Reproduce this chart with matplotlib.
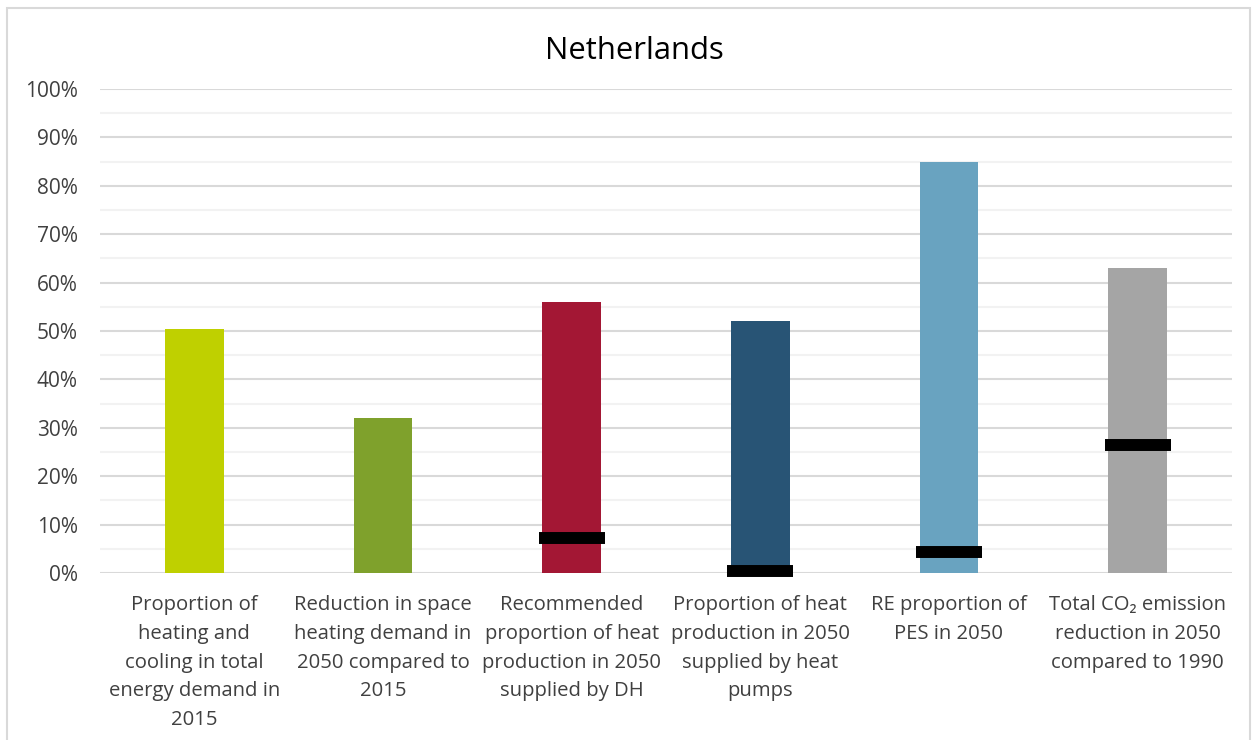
import matplotlib.pyplot as plt
import numpy as np
from matplotlib.patches import Rectangle
from matplotlib.ticker import MultipleLocator, PercentFormatter

plt.rcParams['font.family'] = ['Open Sans', 'DejaVu Sans']

categories = [
    "Proportion of\nheating and\ncooling in total\nenergy demand in\n2015",
    "Reduction in space\nheating demand in\n2050 compared to\n2015",
    "Recommended\nproportion of heat\nproduction in 2050\nsupplied by DH",
    "Proportion of heat\nproduction in 2050\nsupplied by heat\npumps",
    "RE proportion of\nPES in 2050",
    "Total CO\u2082 emission\nreduction in 2050\ncompared to 1990",
]
values = [50.4, 32.0, 56.0, 52.0, 85.0, 63.0]
# black markers (current level), None where absent
markers = [None, None, 7.2, 0.4, 4.3, 26.4]
colors = ['#bfd000', '#7fa12c', '#a31734', '#285475', '#69a3c0', '#a5a5a5']

fig = plt.figure(figsize=(12.54, 7.40), dpi=100)
ax = fig.add_axes([100 / 1254, 1 - 573 / 740, 1132 / 1254, 484 / 740])

x = np.arange(len(categories))
ax.bar(x, values, width=0.31, color=colors, zorder=3)

for xi, m in zip(x, markers):
    if m is not None:
        ax.hlines(m, xi - 0.175, xi + 0.175, colors='black', linewidth=8.6,
                  zorder=4, clip_on=False)

ax.set_xlim(-0.5, len(categories) - 0.5)
ax.set_ylim(0, 100)
ax.yaxis.set_major_locator(MultipleLocator(10))
ax.yaxis.set_minor_locator(MultipleLocator(5))
ax.yaxis.set_major_formatter(PercentFormatter(decimals=0))
ax.grid(axis='y', which='major', color='#d9d9d9', linewidth=1.5, zorder=0)
ax.grid(axis='y', which='minor', color='#f2f2f2', linewidth=1.5, zorder=0)
ax.set_axisbelow(True)

for s in ['top', 'right', 'left', 'bottom']:
    ax.spines[s].set_visible(False)

ax.set_xticks(x)
ax.set_xticklabels(categories, fontsize=14.6, color='#404040', linespacing=1.58,
                   va='top')
ax.tick_params(axis='x', length=0, pad=16)
ax.tick_params(axis='y', which='both', length=0, pad=16, labelsize=15,
               labelcolor='#404040')

fig.text(634 / 1254, 1 - 51 / 740, 'Netherlands', fontsize=22.3, color='#000000',
         ha='center', va='center')

fig.patches.append(Rectangle((7 / 1254, -0.01), 1243 / 1254, 1 - 8 / 740 + 0.01,
                             transform=fig.transFigure, fill=False,
                             edgecolor='#d9d9d9', linewidth=1.5))

fig.savefig('out.png', dpi=100)
